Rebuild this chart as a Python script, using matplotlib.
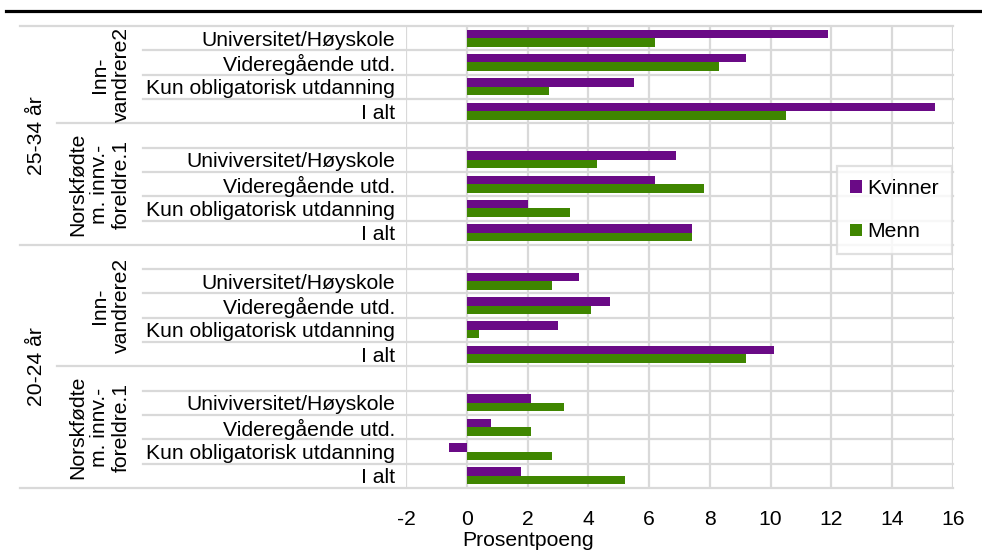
import numpy as np
import matplotlib
matplotlib.use("Agg")
import matplotlib.pyplot as plt
from matplotlib.lines import Line2D
import matplotlib.transforms as mtransforms

plt.rcParams['font.family'] = ['Liberation Sans', 'DejaVu Sans']

# kategorier (rader ovenfra og ned), tomme rader skiller gruppene
rad_etiketter = [
    "Universitet/Høyskole", "Videregående utd.", "Kun obligatorisk utdanning", "I alt",
    "", "Univiversitet/Høyskole", "Videregående utd.", "Kun obligatorisk utdanning", "I alt",
    "", "Universitet/Høyskole", "Videregående utd.", "Kun obligatorisk utdanning", "I alt",
    "", "Univiversitet/Høyskole", "Videregående utd.", "Kun obligatorisk utdanning", "I alt",
]
kvinner = [11.9, 9.2, 5.5, 15.4, np.nan, 6.9, 6.2, 2.0, 7.4, np.nan,
           3.7, 4.7, 3.0, 10.1, np.nan, 2.1, 0.8, -0.6, 1.8]
menn = [6.2, 8.3, 2.7, 10.5, np.nan, 4.3, 7.8, 3.4, 7.4, np.nan,
        2.8, 4.1, 0.4, 9.2, np.nan, 3.2, 2.1, 2.8, 5.2]

aldersgrupper = ["25-34 år", "20-24 år"]
undergrupper = ["Inn-\nvandrere2", "Norskfødte\nm. innv.-\nforeldre.1",
                "Inn-\nvandrere2", "Norskfødte\nm. innv.-\nforeldre.1"]
undergruppe_rader = [4, 5, 5, 5]   # antall rader i hver undergruppe
undergrupper_per_alder = 2

x_ticks = list(range(-2, 17, 2))

lilla = "#6a0a86"
gronn = "#3f8600"
grid_farge = "#d9d9d9"
fs = 15.2

fig = plt.figure(figsize=(9.82, 5.5), dpi=100)
ax = fig.add_axes([406/982, 1-488/550, 547/982, 462/550])

y = np.arange(len(rad_etiketter))
h = 0.35
ax.barh(y - 0.175, kvinner, height=h, color=lilla, label="Kvinner", zorder=3)
ax.barh(y + 0.175, menn, height=h, color=gronn, label="Menn", zorder=3)

ax.set_xlim(x_ticks[0], x_ticks[-1])
ax.set_ylim(len(rad_etiketter) - 0.5, -0.5)
ax.set_xticks(x_ticks)
ax.set_xticklabels([str(t) for t in x_ticks], fontsize=fs)
ax.set_yticks(y)
ax.set_yticklabels(rad_etiketter, fontsize=fs)
ax.tick_params(axis='both', length=0)
ax.tick_params(axis='y', pad=8)
ax.tick_params(axis='x', pad=16)
for s in ax.spines.values():
    s.set_visible(False)

ax.xaxis.grid(True, color=grid_farge, lw=1.6, zorder=0)

# horisontale skillelinjer, forlenget inn i etikettområdet
trans = mtransforms.blended_transform_factory(ax.transAxes, ax.transData)
grenser_under = np.cumsum([0] + undergruppe_rader)
grenser_alder = grenser_under[::undergrupper_per_alder]
x_rad = (143 - 406) / 547
x_under = (57 - 406) / 547
x_alder = (20 - 406) / 547
for b in range(len(rad_etiketter) + 1):
    if b in grenser_alder:
        x0 = x_alder
    elif b in grenser_under:
        x0 = x_under
    else:
        x0 = x_rad
    ax.plot([x0, 1], [b - 0.5, b - 0.5], transform=trans, color=grid_farge,
            lw=1.6, clip_on=False, zorder=1)

# gruppeetiketter
x_under_tekst = (131 - 406) / 547
for i, navn in enumerate(undergrupper):
    midt = (grenser_under[i] + grenser_under[i + 1] - 1) / 2
    ax.text(x_under_tekst, midt, navn, transform=trans, rotation=90, ha='right',
            va='center', multialignment='center', fontsize=fs, linespacing=1.2)
x_alder_tekst = (36 - 406) / 547
for i, navn in enumerate(aldersgrupper):
    midt = (grenser_alder[i] + grenser_alder[i + 1] - 1) / 2
    ax.text(x_alder_tekst, midt, navn, transform=trans, rotation=90, ha='center',
            va='center', fontsize=fs)

fig.text(528/982, 1 - 540/550, "Prosentpoeng", ha='center', va='center', fontsize=fs)

leg = ax.legend(loc='upper left', bbox_to_anchor=(837/982, 1 - 166/550),
                bbox_transform=fig.transFigure, borderaxespad=0, fontsize=fs,
                frameon=True, fancybox=False, handlelength=0.55, handleheight=0.55,
                handletextpad=0.25, labelspacing=1.15, borderpad=0.62)
leg.get_frame().set_edgecolor(grid_farge)
leg.get_frame().set_linewidth(1.6)

fig.add_artist(Line2D([6/982, 1], [1 - 10.5/550, 1 - 10.5/550], color='black',
                      lw=2.3, transform=fig.transFigure))

fig.savefig("out.png", dpi=100)
